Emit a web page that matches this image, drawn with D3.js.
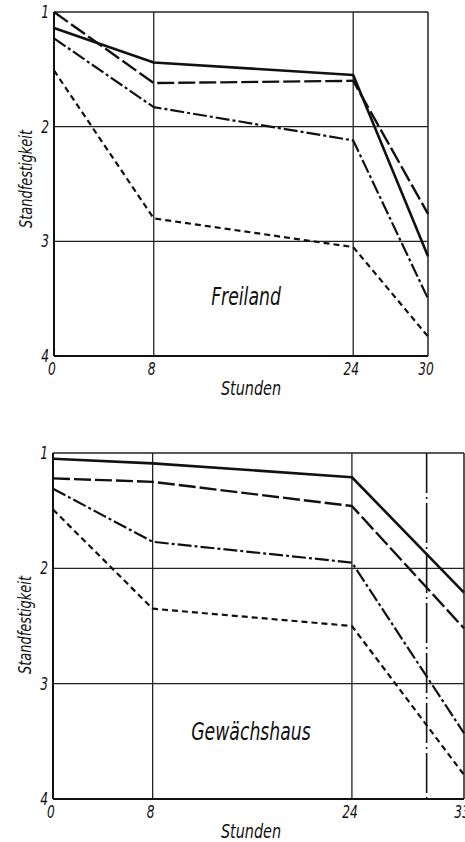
<!DOCTYPE html>
<html>
<head>
<meta charset="utf-8">
<script src="https://cdn.jsdelivr.net/npm/d3@7"></script>
<style>
  html, body { margin: 0; padding: 0; background: #fff; }
  svg text {
    font-family: "DejaVu Sans Condensed", "DejaVu Sans", sans-serif;
    font-style: italic;
    fill: #111;
  }
</style>
</head>
<body>
<div id="chart"></div>
<script>
// Werte (Standfestigkeit, 1 = oben)
const yTicks = [1, 2, 3, 4];
const yGrid = [2, 3];

// Freiland
const hoursFreiland = [0, 8, 24, 30];
const freilandSolid = [1.14, 1.44, 1.55, 3.13];
const freilandLongDash = [1.00, 1.62, 1.60, 2.76];
const freilandDashDot = [1.23, 1.83, 2.12, 3.50];
const freilandShortDash = [1.51, 2.80, 3.05, 3.83];
const freilandXTicks = [0, 8, 24, 30];
const freilandXGrid = [8, 24];

// Gewächshaus
const hoursHaus = [0, 8, 24, 33];
const hausSolid = [1.05, 1.09, 1.21, 2.21];
const hausLongDash = [1.22, 1.25, 1.46, 2.52];
const hausDashDot = [1.31, 1.77, 1.95, 3.43];
const hausShortDash = [1.49, 2.35, 2.50, 3.79];
const hausXTicks = [0, 8, 24, 33];
const hausXGrid = [8, 24];
const hausMarker = [30];

const svgWidth = 465, svgHeight = 842;

const svg = d3.select("#chart")
  .append("svg")
  .attr("width", svgWidth)
  .attr("height", svgHeight);

// line styles, same order as the series arrays
const styles = [
  { dash: null, width: 2.6 },
  { dash: "17,4", width: 2.4 },
  { dash: "14,3,3,3", width: 2.2 },
  { dash: "6,4", width: 2.2 }
];

// narrow italic lettering like the original print
const narrow = 0.8;
function label(g, x, y, size, anchor, txt, rotate) {
  g.append("text")
    .attr("transform", `translate(${x}, ${y})` + (rotate ? " rotate(-90)" : "") + ` scale(${narrow}, 1)`)
    .attr("text-anchor", anchor)
    .attr("font-size", size)
    .text(txt);
}

function drawPanel(p) {
  const x = d3.scaleLinear().domain(p.xDomain).range([p.left, p.right]);
  const y = d3.scaleLinear().domain([1, 4]).range([p.top, p.bottom]);
  const g = svg.append("g");

  // grid
  g.selectAll(".hgrid").data(yGrid).enter().append("line")
    .attr("x1", p.left).attr("x2", p.right)
    .attr("y1", d => y(d)).attr("y2", d => y(d))
    .attr("stroke", "#222").attr("stroke-width", 1.3);

  g.selectAll(".vgrid").data(p.xGrid).enter().append("line")
    .attr("x1", d => x(d)).attr("x2", d => x(d))
    .attr("y1", p.top).attr("y2", p.bottom)
    .attr("stroke", "#222").attr("stroke-width", 1.3);

  if (p.marker) {
    g.selectAll(".marker").data(p.marker).enter().append("line")
      .attr("x1", d => x(d)).attr("x2", d => x(d))
      .attr("y1", p.top).attr("y2", p.bottom)
      .attr("stroke", "#111").attr("stroke-width", 1.6)
      .attr("stroke-dasharray", "40,4,2,4");
  }

  // frame
  g.append("line").attr("x1", p.left).attr("x2", p.right).attr("y1", p.top).attr("y2", p.top)
    .attr("stroke", "#222").attr("stroke-width", 1.5);
  g.append("line").attr("x1", p.right).attr("x2", p.right).attr("y1", p.top).attr("y2", p.bottom)
    .attr("stroke", "#222").attr("stroke-width", 1.5);
  g.append("line").attr("x1", p.left).attr("x2", p.left).attr("y1", p.top).attr("y2", p.bottom)
    .attr("stroke", "#111").attr("stroke-width", 2);
  g.append("line").attr("x1", p.left).attr("x2", p.right).attr("y1", p.bottom).attr("y2", p.bottom)
    .attr("stroke", "#111").attr("stroke-width", 2);

  // series
  const line = d3.line().x((d, i) => x(p.hours[i])).y(d => y(d));
  p.series.forEach((s, i) => {
    g.append("path")
      .datum(s)
      .attr("d", line)
      .attr("fill", "none")
      .attr("stroke", "#111")
      .attr("stroke-width", styles[i].width)
      .attr("stroke-linejoin", "round")
      .attr("stroke-dasharray", styles[i].dash);
  });

  // tick labels
  yTicks.forEach(d => label(g, p.left - 5, y(d) + 6, 17, "end", d));
  p.xTicks.forEach(d => label(g, x(d) - 2, p.bottom + 19, 17, "middle", d));

  // axis titles
  label(g, p.left - 22, p.titleY, 18, "middle", "Standfestigkeit", true);
  label(g, 251, p.bottom + 39, 20, "middle", "Stunden");

  // panel name
  label(g, p.labelX, p.labelY, 24, "middle", p.label);
}

drawPanel({
  left: 54, right: 428, top: 12, bottom: 356,
  xDomain: [0, 30],
  hours: hoursFreiland,
  series: [freilandSolid, freilandLongDash, freilandDashDot, freilandShortDash],
  xTicks: freilandXTicks,
  xGrid: freilandXGrid,
  titleY: 179,
  label: "Freiland", labelX: 246, labelY: 305
});

drawPanel({
  left: 53, right: 464, top: 453, bottom: 799,
  xDomain: [0, 33],
  hours: hoursHaus,
  series: [hausSolid, hausLongDash, hausDashDot, hausShortDash],
  xTicks: hausXTicks,
  xGrid: hausXGrid,
  marker: hausMarker,
  titleY: 625,
  label: "Gewächshaus", labelX: 251, labelY: 740
});
</script>
</body>
</html>
